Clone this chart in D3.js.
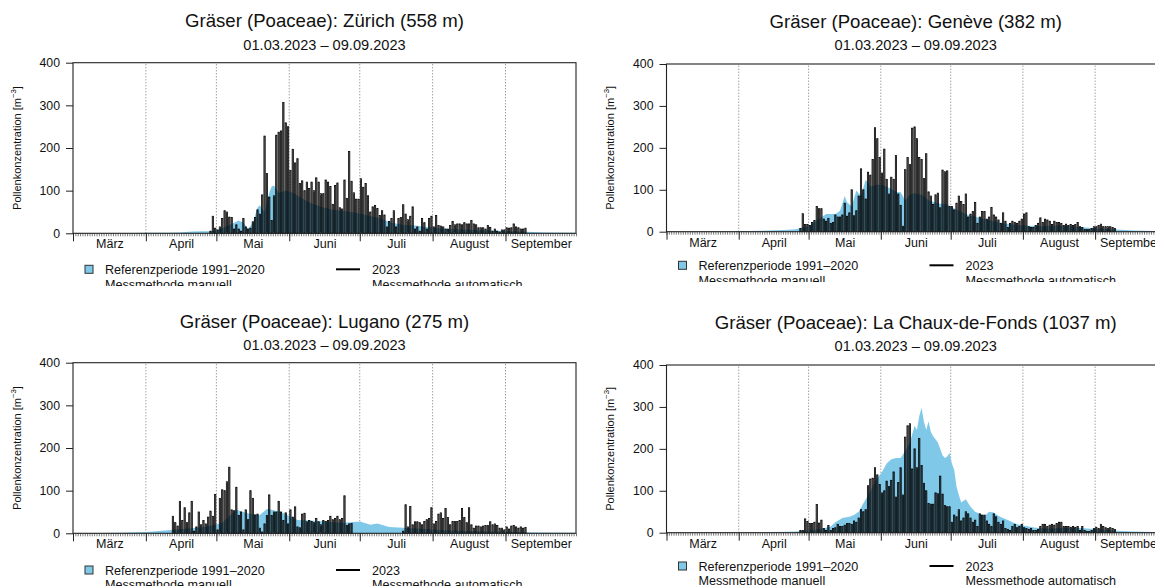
<!DOCTYPE html>
<html><head><meta charset="utf-8">
<script src="https://cdn.jsdelivr.net/npm/d3@7"></script>
<style>
body{margin:0;background:#fff}
svg{display:block;font-family:"Liberation Sans",Arial,Helvetica,sans-serif}
</style>
</head><body>
<svg id="chart" width="1155" height="586"></svg>
<script>
// ---------------- DATA ----------------
const monthNames = ["März","April","Mai","Juni","Juli","August","September"];
const monthStarts = [0,31,61,92,122,153,184,214]; // day index from 01.03.2023
const yTicks = [0,100,200,300,400];
const subtitle = "01.03.2023 – 09.09.2023";
const yTitle = "Pollenkonzentration [m";
const legendRef = "Referenzperiode 1991–2020";
const legendRef2 = "Messmethode manuell";
const legendYear = "2023";
const legendYear2 = "Messmethode automatisch";

const titles = [
  "Gräser (Poaceae): Zürich (558 m)",
  "Gräser (Poaceae): Genève (382 m)",
  "Gräser (Poaceae): Lugano (275 m)",
  "Gräser (Poaceae): La Chaux-de-Fonds (1037 m)"
];

// 2023 daily values (first value at given start day index)
const zurichStart = 58;
const zurich2023 = [5,40,12,8,15,35,53,50,38,37,10,20,10,5,35,15,10,12,27,37,55,45,90,228,140,85,30,88,230,237,240,307,259,250,147,197,165,175,117,123,100,120,105,120,100,130,120,93,93,125,120,110,68,112,118,60,57,125,82,192,122,95,80,80,128,108,117,88,50,62,65,58,42,53,43,15,28,35,53,15,35,37,67,45,32,40,62,10,15,5,35,25,10,35,40,15,42,18,17,15,10,10,18,28,20,22,22,20,25,22,22,30,22,20,13,13,13,10,18,14,5,10,5,3,8,8,13,12,13,22,15,13,10,10,12];

const genevaStart = 57;
const geneva2023 = [8,43,17,17,15,22,27,60,55,55,30,25,32,20,22,40,35,35,40,68,37,45,100,38,50,85,150,100,78,142,135,172,248,222,177,140,197,125,90,130,125,182,90,63,13,148,177,160,247,250,222,177,172,127,186,95,85,65,88,92,57,147,143,145,60,60,52,68,85,72,65,90,35,42,48,70,20,35,48,48,30,35,58,40,35,28,20,45,25,10,20,25,22,20,25,30,42,45,12,10,10,15,20,33,22,30,28,25,17,25,22,22,20,15,18,15,17,15,17,22,12,10,5,5,5,8,12,12,15,18,12,12,12,12,10,8];

const luganoStart = 42;
const lugano2023 = [40,25,17,75,30,60,25,48,75,5,15,50,20,30,22,38,52,40,91,8,82,102,100,121,155,55,53,108,42,50,8,55,32,100,82,43,45,12,3,22,42,90,42,50,50,75,50,30,48,22,55,38,62,15,13,45,47,27,30,28,25,35,27,20,30,28,30,40,32,35,40,32,35,88,18,22,23,
  null,null,null,null,null,null,null,null,null,null,null,null,null,null,null,null,null,null,null,null,null,
  5,67,15,63,20,27,27,25,20,28,32,35,60,22,28,45,48,35,58,37,20,28,28,28,30,58,37,25,60,20,12,17,17,15,17,18,18,27,20,22,18,12,12,8,15,10,17,18,15,12,15,12,14];

const chauxStart = 57;
const chaux2023 = [5,5,33,27,22,22,25,67,23,30,10,5,17,5,10,12,20,15,15,18,22,22,20,28,25,35,55,50,55,112,128,130,155,138,115,95,100,123,110,125,145,85,120,155,90,228,255,260,152,200,155,225,160,118,100,70,68,68,95,93,135,92,65,62,62,25,42,38,55,28,35,50,45,35,25,30,15,45,42,42,28,20,15,45,38,25,20,28,10,8,5,15,20,12,15,20,12,10,8,10,5,5,8,15,20,20,15,18,20,18,22,25,25,15,15,15,13,15,13,15,5,15,5,3,3,5,10,13,10,20,15,12,10,12,10,8];

// Reference period 1991-2020 (day index, value)
const refZurichDays = [0,20,31,40,45,50,55,58,61,64,67,70,72,74,76,78,79,81,83,84,85,87,90,93,96,100,105,110,115,120,125,130,135,140,145,150,155,160,170,180,190,200,213];
const refZurichVals = [0,0,1,1,2,4,5,5,8,15,22,30,25,10,25,60,66,50,95,110,112,95,100,95,85,72,62,55,52,48,42,35,25,20,18,15,12,10,8,6,4,2,1];

const refGenevaDays = [0,30,40,50,55,58,61,65,68,72,74,76,77,79,81,83,85,87,90,92,95,98,100,102,104,106,109,112,116,120,125,129,136,144,152,160,168,176,183,191,200,213];
const refGenevaVals = [0,1,2,4,6,10,15,30,42,42,50,85,70,60,98,85,124,108,112,112,105,95,94,75,88,92,88,75,68,65,50,40,30,20,15,13,15,12,8,6,3,1];

const refLuganoDays = [0,20,31,41,50,55,60,63,66,69,72,75,79,82,84,88,91,95,100,105,110,115,120,122,126,129,134,140,149,157,173,189,196,213];
const refLuganoVals = [0,1,3,8,12,15,20,25,40,55,50,45,43,57,55,50,42,31,30,28,26,25,27,27,20,23,15,13,10,7,5,3,2,1];

const refChauxDays = [0,40,50,55,60,65,68,70,72,75,78,80,82,84,86,88,90,92,94,96,98,100,102,104,106,107,108,109,110,111,112,113,114,116,118,119,120,121,122,123,124,125,126,128,130,132,134,136,138,140,142,144,146,148,150,152,155,158,162,166,170,175,180,185,190,195,200,213];
const refChauxVals = [0,1,2,3,5,8,12,15,25,35,38,42,50,70,88,110,130,145,165,175,178,178,195,215,255,245,278,298,265,245,265,240,230,215,185,178,182,190,165,150,110,90,72,80,62,50,45,40,50,48,40,35,30,25,20,18,15,12,10,10,12,12,10,8,6,4,3,1];

// ---------------- LAYOUT ----------------
const panels = [
  {title:titles[0], start:zurichStart, vals:zurich2023, rd:refZurichDays, rv:refZurichVals,
   x0:73, x1:576, yt:62.7, yb:233.3, clip:[0,0,577,286], titleY:26.7, subY:49.5, legY:273.8, ytX:21},
  {title:titles[1], start:genevaStart, vals:geneva2023, rd:refGenevaDays, rv:refGenevaVals,
   x0:666.5, x1:1165, yt:64, yb:231.7, clip:[577,0,578,282], titleY:27.5, subY:49.5, legY:269.8, ytX:614},
  {title:titles[2], start:luganoStart, vals:lugano2023, rd:refLuganoDays, rv:refLuganoVals,
   x0:73, x1:576, yt:362.7, yb:533.3, clip:[0,300,577,286], titleY:327.5, subY:350, legY:574.5, ytX:21},
  {title:titles[3], start:chauxStart, vals:chaux2023, rd:refChauxDays, rv:refChauxVals,
   x0:666.5, x1:1165, yt:365, yb:532.7, clip:[577,300,578,286], titleY:328.5, subY:350.5, legY:570.5, ytX:614}
];

const BLUE = "#80C8E8";
const svg = d3.select("#chart");
svg.append("rect").attr("width",1155).attr("height",586).attr("fill","#fff");
const defs = svg.append("defs");

panels.forEach((p, pi) => {
  defs.append("clipPath").attr("id","clip"+pi).append("rect")
    .attr("x",p.clip[0]).attr("y",p.clip[1]).attr("width",p.clip[2]).attr("height",p.clip[3]);
  const g = svg.append("g").attr("clip-path",`url(#clip${pi})`);
  const x = d3.scaleLinear().domain([0,214]).range([p.x0,p.x1]);
  const y = d3.scaleLinear().domain([0,400]).range([p.yb,p.yt]);
  const cx = (p.x0 + p.x1)/2;

  // titles
  g.append("text").attr("x",cx).attr("y",p.titleY).attr("text-anchor","middle")
    .attr("font-size",18.6).attr("fill","#111").text(p.title);
  g.append("text").attr("x",cx).attr("y",p.subY).attr("text-anchor","middle")
    .attr("font-size",14.6).attr("fill","#111").text(subtitle);

  // dotted month lines
  g.append("g").selectAll("line").data(monthStarts.slice(1,7)).join("line")
    .attr("x1",d=>x(d)).attr("x2",d=>x(d)).attr("y1",y(0)).attr("y2",y(400))
    .attr("stroke","#666").attr("stroke-width",0.9).attr("stroke-dasharray","1,2");

  // reference area
  const refData = p.rd.map((d,i)=>[d,p.rv[i]]);
  g.append("path").datum(refData)
    .attr("d", d3.area().x(d=>x(d[0]+0.5)).y0(y(0)).y1(d=>y(d[1])))
    .attr("fill",BLUE);

  // bars 2023
  const bars = p.vals.map((v,i)=>({day:p.start+i, v})).filter(d=>d.v!==null);
  const bw = 1.3;
  g.append("g").selectAll("rect").data(bars).join("rect")
    .attr("x",d=>x(d.day+0.5)-bw/2).attr("width",bw)
    .attr("y",d=>y(d.v)).attr("height",d=>y(0)-y(d.v))
    .attr("fill","#000").attr("fill-opacity",0.6)
    .attr("stroke","#000").attr("stroke-width",0.75);

  // box
  g.append("rect").attr("x",p.x0).attr("y",p.yt).attr("width",p.x1-p.x0).attr("height",p.yb-p.yt)
    .attr("fill","none").attr("stroke","#222").attr("stroke-width",1.1);

  // y axis
  const ya = g.append("g").attr("transform",`translate(${p.x0},0)`)
    .call(d3.axisLeft(y).tickValues(yTicks).tickSize(7).tickPadding(6).tickFormat(d3.format("d")));
  ya.select(".domain").remove();
  ya.selectAll("text").attr("font-size",12.3).attr("fill","#111").attr("font-family",null);
  ya.selectAll("line").attr("stroke","#222");

  // x axis: daily minor ticks
  const xm = g.append("g").attr("transform",`translate(0,${p.yb})`)
    .call(d3.axisBottom(x).tickValues(d3.range(0,215)).tickSize(3).tickFormat(""));
  xm.select(".domain").remove();
  xm.selectAll("line").attr("stroke","#222").attr("stroke-width",0.6);
  // x axis: month boundary ticks
  const xM = g.append("g").attr("transform",`translate(0,${p.yb})`)
    .call(d3.axisBottom(x).tickValues(monthStarts.slice(0,7)).tickSize(8).tickFormat(""));
  xM.select(".domain").remove();
  xM.selectAll("line").attr("stroke","#222").attr("stroke-width",1);
  // month labels
  const mids = monthNames.map((m,i)=>(monthStarts[i]+monthStarts[i+1])/2);
  const xl = g.append("g").attr("transform",`translate(0,${p.yb})`)
    .call(d3.axisBottom(x).tickValues(mids).tickSize(0).tickPadding(6).tickFormat((d,i)=>monthNames[i]));
  xl.select(".domain").remove();
  xl.selectAll("text").attr("font-size",12.5).attr("fill","#111").attr("font-family",null);

  // y title
  const yt = g.append("text")
    .attr("transform",`translate(${p.ytX},${(p.yt+p.yb)/2}) rotate(-90)`)
    .attr("text-anchor","middle").attr("font-size",11).attr("fill","#111");
  yt.append("tspan").text(yTitle);
  yt.append("tspan").attr("font-size",7.8).attr("dy",-4.7).text("−3");
  yt.append("tspan").attr("dy",4.7).text("]");

  // legend
  const lx = p.x0 + 12;
  g.append("rect").attr("x",lx).attr("y",p.legY-8.5).attr("width",8).attr("height",8)
    .attr("fill",BLUE).attr("stroke","#333").attr("stroke-width",1);
  g.append("text").attr("x",lx+20).attr("y",p.legY).attr("font-size",12.6).attr("fill","#111").text(legendRef);
  g.append("text").attr("x",lx+20).attr("y",p.legY+14.8).attr("font-size",12.6).attr("fill","#111").text(legendRef2);
  g.append("line").attr("x1",lx+251).attr("x2",lx+275).attr("y1",p.legY-4.5).attr("y2",p.legY-4.5)
    .attr("stroke","#000").attr("stroke-width",2);
  g.append("text").attr("x",lx+287).attr("y",p.legY).attr("font-size",12.6).attr("fill","#111").text(legendYear);
  g.append("text").attr("x",lx+287).attr("y",p.legY+14.8).attr("font-size",12.6).attr("fill","#111").text(legendYear2);
});
</script>
</body></html>
